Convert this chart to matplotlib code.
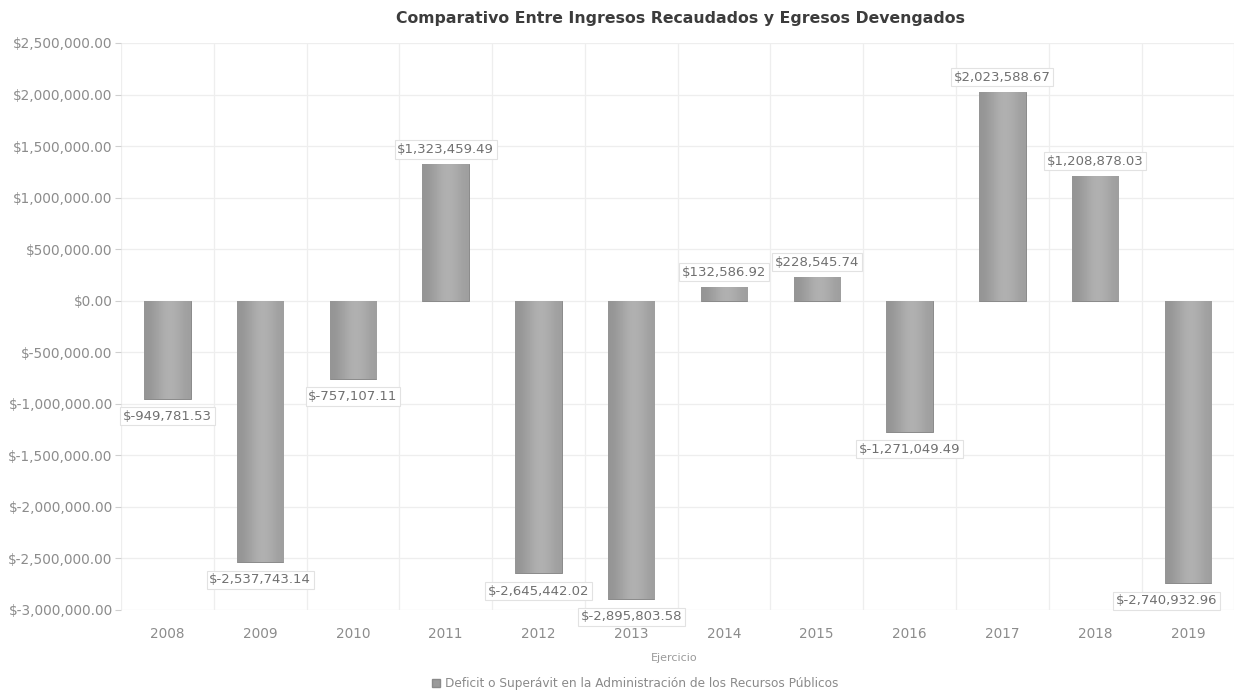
import matplotlib
matplotlib.use("Agg")
import matplotlib.pyplot as plt
import numpy as np

# Fiscal years and the resulting balance (income collected minus expenses accrued)
years = ["2008", "2009", "2010", "2011", "2012", "2013",
         "2014", "2015", "2016", "2017", "2018", "2019"]
balance = [-949781.53, -2537743.14, -757107.11, 1323459.49, -2645442.02, -2895803.58,
           132586.92, 228545.74, -1271049.49, 2023588.67, 1208878.03, -2740932.96]
y_ticks = [2500000, 2000000, 1500000, 1000000, 500000, 0,
           -500000, -1000000, -1500000, -2000000, -2500000, -3000000]

title = "Comparativo Entre Ingresos Recaudados y Egresos Devengados"
x_title = "Ejercicio"
series_name = "Deficit o Superávit en la Administración de los Recursos Públicos"

TEXT = "#8c8c8c"
GRID = "#eeeeee"
BAR = "#a0a0a0"


def money(v):
    if v < 0:
        return "$-{:,.2f}".format(-v)
    return "${:,.2f}".format(v)


fig = plt.figure(figsize=(12.37, 7.0), dpi=100)
ax = fig.add_axes([0.0978, 0.1286, 0.9, 0.81])

x = np.arange(len(years))
bars = ax.bar(x, balance, width=0.5, color=BAR, edgecolor="#8a8a8a", linewidth=0.7, zorder=3)

# soft horizontal shading across each bar
grad = np.array([[0.58, 0.64, 0.70, 0.68, 0.62]])
for b in bars:
    x0, y0 = b.get_x(), b.get_y()
    w, h = b.get_width(), b.get_height()
    im = ax.imshow(grad, cmap="gray", vmin=0, vmax=1, aspect="auto",
                   extent=[x0, x0 + w, y0, y0 + h], zorder=3.5, interpolation="bicubic")
    im.set_clip_path(b)

ax.set_xlim(-0.5, len(years) - 0.5)
ax.set_ylim(-3000000, 2500000)
ax.set_xticks(x)
ax.set_xticklabels(years)
ax.set_yticks(y_ticks)
ax.set_yticklabels([money(v) for v in y_ticks])

# grid: horizontal at value ticks, vertical at category boundaries
for v in y_ticks:
    ax.axhline(v, color=GRID, linewidth=0.9, zorder=1)
for b in np.arange(-0.5, len(years) + 0.5, 1.0):
    ax.axvline(b, color=GRID, linewidth=0.9, zorder=1)

for s in ax.spines.values():
    s.set_visible(False)
ax.tick_params(axis="y", colors="#cfcfcf", labelcolor=TEXT, labelsize=9.8, length=4,
               width=0.8, pad=2)
ax.tick_params(axis="x", colors="#cfcfcf", labelcolor=TEXT, labelsize=9.8, length=0, pad=12)

# value labels in small framed boxes
labels = []
for xi, v in zip(x, balance):
    off = 6 if v >= 0 else -8
    t = ax.annotate(money(v), xy=(xi, v), xytext=(0, off), textcoords="offset points",
                    ha="center", va="bottom" if v >= 0 else "top",
                    fontsize=9.5, color="#707070", zorder=5,
                    bbox=dict(boxstyle="square,pad=0.2", fc="white", ec="#e2e2e2", lw=0.8))
    labels.append((t, off))

# keep labels inside the figure: nudge any that run past the right edge
fig.canvas.draw()
renderer = fig.canvas.get_renderer()
fig_w = fig.bbox.width
for t, off in labels:
    ext = t.get_window_extent(renderer)
    overflow = ext.x1 - (fig_w - 8)
    if overflow > 0:
        t.set_position((-(overflow + 12) * 72 / fig.dpi, off))

fig.text(0.5505, 0.973, title, ha="center", va="center", fontsize=11.3,
         fontweight="bold", color="#3c3c3c")
fig.text(0.545, 0.06, x_title, ha="center", va="center", fontsize=8, color="#9a9a9a")

# legend entry
fig.patches.append(matplotlib.patches.Rectangle((0.3495, 0.0186), 0.0065, 0.0115,
                                                 transform=fig.transFigure,
                                                 facecolor="#9a9a9a", edgecolor="#8a8a8a"))
fig.text(0.3597, 0.024, series_name, ha="left", va="center", fontsize=8.7, color="#8a8a8a")

fig.savefig("out.png", dpi=100, facecolor="white")
